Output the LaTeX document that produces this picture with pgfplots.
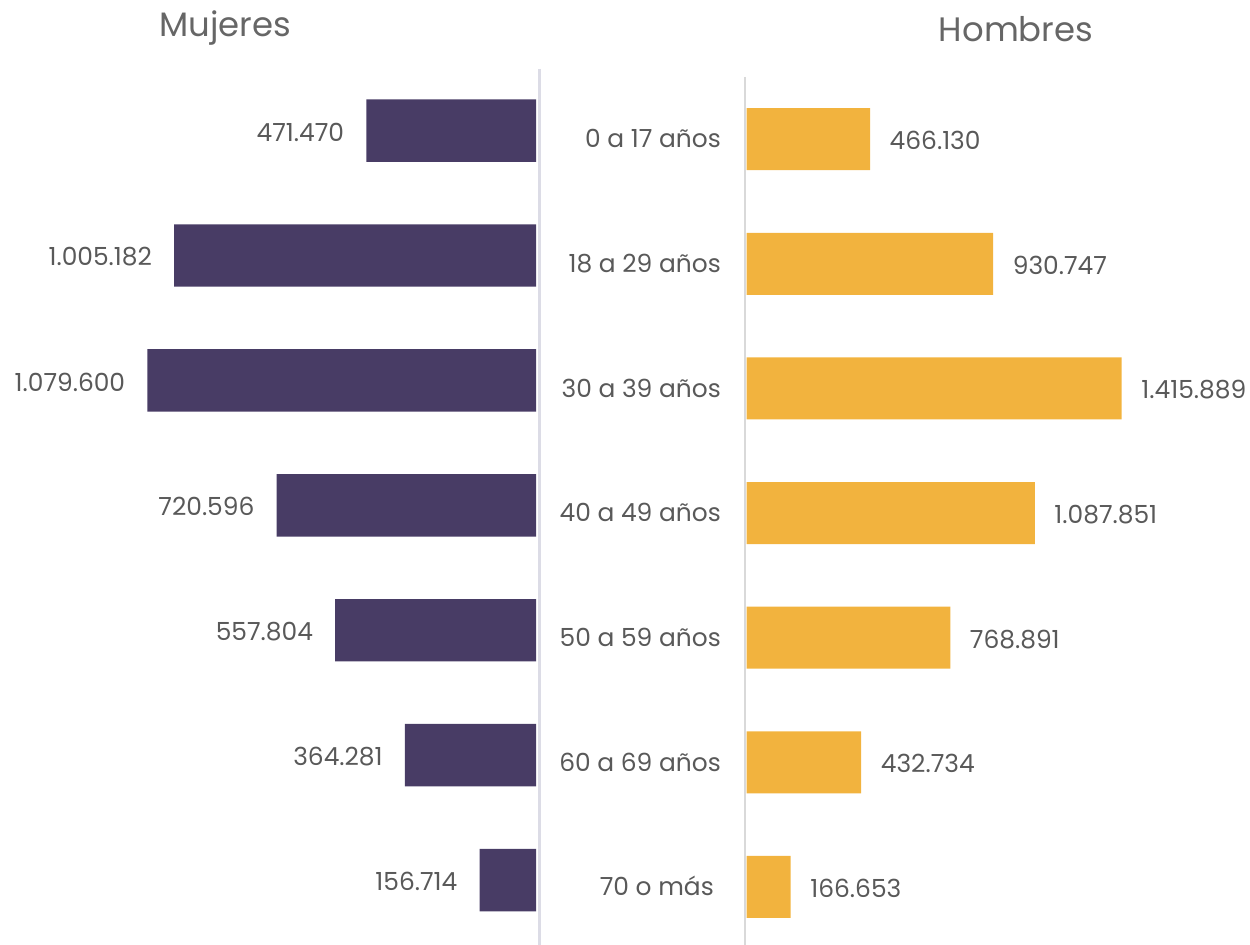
\documentclass[border=0pt]{standalone}
\usepackage{fontspec}
\setmainfont{Poppins}
\usepackage{pgfplots}
\pgfplotsset{compat=1.18}
\definecolor{muj}{HTML}{483C65}
\definecolor{hom}{HTML}{F2B33E}
\definecolor{txt}{HTML}{595959}
\definecolor{ttl}{HTML}{666666}
\definecolor{axl}{HTML}{DCDCE6}
\definecolor{axr}{HTML}{D9D9D9}
\begin{document}
\begin{tikzpicture}[x=1bp,y=1bp]
\useasboundingbox (0,0) rectangle (1250,945);
\begin{axis}[
  at={(0bp,2.5bp)}, anchor=south west,
  scale only axis, width=536bp, height=874.4bp,
  xbar, bar width=62.4bp,
  x dir=reverse, y dir=reverse,
  xmin=0, xmax=1488889, ymin=-0.5, ymax=6.5,
  hide axis, clip=false,
  point meta=explicit symbolic,
  nodes near coords,
  nodes near coords style={anchor=east, inner sep=0pt, xshift=-22bp, yshift=-1.5bp,
    font=\fontsize{25}{29}\selectfont, text=txt},
]
\addplot[fill=muj, draw=none] table[y=i, x=v, meta=lab] {
i v lab
0 471470 471.470
1 1005182 1.005.182
2 1079600 1.079.600
3 720596 720.596
4 557804 557.804
5 364281 364.281
6 156714 156.714
};
\end{axis}
\begin{axis}[
  at={(746.5bp,-4.3bp)}, anchor=south west,
  scale only axis, width=503.5bp, height=872.4bp,
  xbar, bar width=62bp,
  y dir=reverse,
  xmin=0, xmax=1900000, ymin=-0.5, ymax=6.5,
  clip=false,
  axis line style={draw=none},
  major tick length=0pt,
  xtick=\empty,
  ytick={0,...,6},
  yticklabels={0 a 17 años, 18 a 29 años, 30 a 39 años, 40 a 49 años, 50 a 59 años, 60 a 69 años, 70 o más\hspace*{7bp}},
  yticklabel style={anchor=base east, inner sep=0pt, xshift=-25.5bp, yshift=-8.7bp,
    font=\fontsize{25}{29}\selectfont, text=txt},
  point meta=explicit symbolic,
  nodes near coords,
  nodes near coords style={anchor=west, inner sep=0pt, xshift=19.5bp, yshift=-1.5bp,
    font=\fontsize{25}{29}\selectfont, text=txt},
]
\addplot[fill=hom, draw=none] table[y=i, x=v, meta=lab] {
i v lab
0 466130 466.130
1 930747 930.747
2 1415889 1.415.889
3 1087851 1.087.851
4 768891 768.891
5 432734 432.734
6 166653 166.653
};
\end{axis}
\draw[axl, line width=2.5bp] (539.5,876) -- (539.5,0);
\draw[axr, line width=2.5bp] (745,868) -- (745,0);
\node[anchor=base, inner sep=0pt, text=ttl, font=\fontsize{34}{40}\selectfont] at (225.5,908) {Mujeres};
\node[anchor=base, inner sep=0pt, text=ttl, font=\fontsize{34}{40}\selectfont] at (1016,903) {Hombres};
\end{tikzpicture}
\end{document}
